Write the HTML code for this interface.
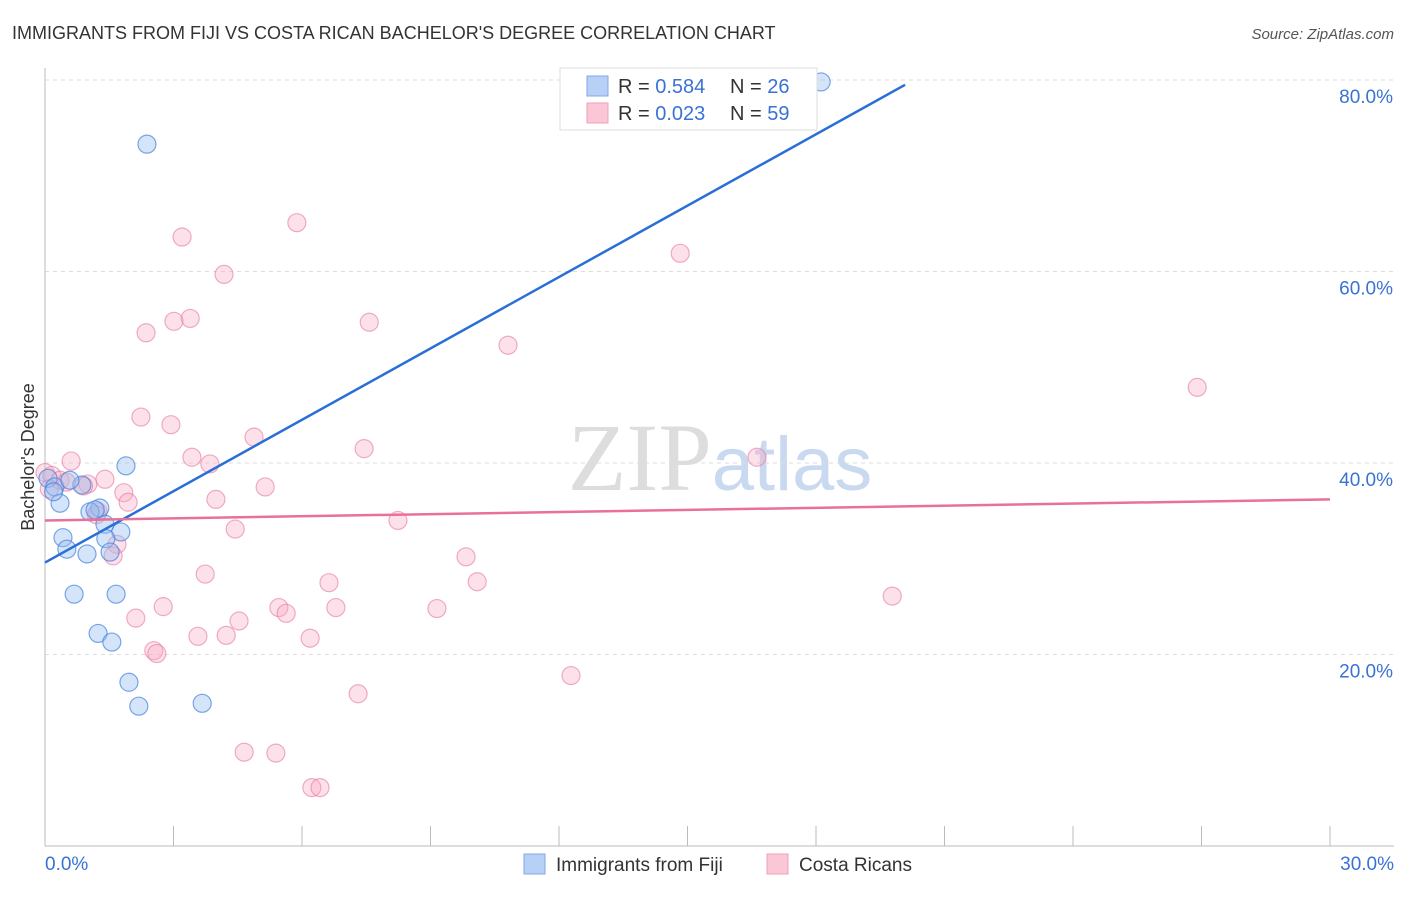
<!DOCTYPE html>
<html><head><meta charset="utf-8"><style>
body{margin:0;background:#fff;font-family:"Liberation Sans",sans-serif;}
svg text{font-family:"Liberation Sans",sans-serif;}
</style></head><body>
<svg id="chart" width="1406" height="892" xmlns="http://www.w3.org/2000/svg">
<text x="12" y="39" font-size="18" fill="#333">IMMIGRANTS FROM FIJI VS COSTA RICAN BACHELOR'S DEGREE CORRELATION CHART</text>
<text x="1394" y="39" font-size="15" fill="#555" font-style="italic" text-anchor="end">Source: ZipAtlas.com</text>
<text x="720" y="490" font-size="96" text-anchor="middle"><tspan fill="#ddd" font-family="Liberation Serif">ZIP</tspan><tspan fill="#c9d9f0" font-size="76">atlas</tspan></text>
<g id="grid"></g>
<g id="axes"></g>
<g id="marks"></g>
<g id="trends"></g>
<text transform="translate(34,457) rotate(-90)" font-size="18" fill="#333" text-anchor="middle">Bachelor's Degree</text>
<g>
<rect x="560" y="68" width="257" height="62" fill="#fff" stroke="#ddd"/>
<rect x="587" y="76" width="21" height="20" fill="#b8d0f5" stroke="#7fa8e8"/>
<rect x="587" y="103" width="21" height="20" fill="#fbc6d6" stroke="#f0a0b8"/>
<text x="618" y="93" font-size="20" fill="#333">R = <tspan fill="#3a72d4">0.584</tspan></text>
<text x="730" y="93" font-size="20" fill="#333">N = <tspan fill="#3a72d4">26</tspan></text>
<text x="618" y="120" font-size="20" fill="#333">R = <tspan fill="#3a72d4">0.023</tspan></text>
<text x="730" y="120" font-size="20" fill="#333">N = <tspan fill="#3a72d4">59</tspan></text>
</g>
<g>
<rect x="524" y="854" width="21" height="20" fill="#b8d0f5" stroke="#7fa8e8"/>
<text x="556" y="871" font-size="19" fill="#333">Immigrants from Fiji</text>
<rect x="767" y="854" width="21" height="20" fill="#fbc6d6" stroke="#f0a0b8"/>
<text x="799" y="871" font-size="19" fill="#333">Costa Ricans</text>
</g>
</svg>
<script>
const yTicks=[20,40,60,80];
const yTickLabels=["20.0%","40.0%","60.0%","80.0%"];
const xTicks=[0,3,6,9,12,15,18,21,24,27,30];
const xEndLabels=["0.0%","30.0%"];
const fijiX=[2.38,18.12,1.89,0.07,0.23,0.86,0.35,1.28,1.05,1.4,1.77,0.42,1.42,0.51,1.52,0.98,0.68,1.66,1.24,1.56,1.96,2.19,3.67,1.17,0.58,0.2];
const fijiY=[73.3,79.8,39.7,38.4,37.5,37.7,35.8,35.3,34.9,33.6,32.8,32.2,32.1,31.0,30.7,30.5,26.3,26.3,22.2,21.3,17.1,14.6,14.9,35.1,38.2,37.0];
const costaX=[5.88,3.2,4.18,3.39,3.01,2.36,7.57,10.81,14.83,26.9,2.24,2.94,4.88,7.45,3.43,3.85,16.62,0.61,0.0,1.4,1.0,5.14,1.84,3.99,1.94,1.24,8.24,4.44,1.68,1.59,9.83,3.74,6.63,10.09,19.78,2.76,5.46,6.79,9.15,5.63,2.12,4.53,3.57,4.23,6.19,2.54,2.61,12.28,7.31,4.65,5.39,6.23,6.42,0.16,0.35,0.9,1.2,0.1,0.5];
const costaY=[65.1,63.6,59.7,55.1,54.8,53.6,54.7,52.3,61.9,47.9,44.8,44.0,42.7,41.5,40.6,39.9,40.6,40.2,39.0,38.3,37.8,37.5,36.9,36.2,35.9,34.9,34.0,33.1,31.5,30.3,30.2,28.4,27.5,27.6,26.1,25.0,24.9,24.9,24.8,24.3,23.8,23.5,21.9,22.0,21.7,20.4,20.1,17.8,15.9,9.8,9.7,6.1,6.1,38.7,38.2,37.6,34.6,37.3,38.0];
const fijiTrend=[[0,29.6],[20.08,79.5]];
const costaTrend=[[0,34.0],[30,36.2]];
const X=v=>45+v*1285/30, Y=v=>846-v*9.575;
const NS="http://www.w3.org/2000/svg";
function mk(parent,tag,attrs){const e=document.createElementNS(NS,tag);for(const k in attrs)e.setAttribute(k,attrs[k]);document.getElementById(parent).appendChild(e);return e;}
yTicks.forEach((t,i)=>{
 const l=mk('grid','line',{x1:45,x2:1394,y1:Y(t),y2:Y(t),stroke:'#ddd','stroke-dasharray':'4,4'});
 
 
 const tx=mk('grid','text',{x:1393,y:Y(t)+23,'font-size':19,fill:'#3a72d4','text-anchor':'end'});
 tx.textContent=yTickLabels[i];
 
 
});
const ax=mk('axes','line',{x1:45,x2:45,y1:68,y2:846,stroke:'#bbb'});


const bx=mk('axes','line',{x1:45,x2:1394,y1:846,y2:846,stroke:'#bbb'});


xTicks.forEach(t=>{
 const l=mk('axes','line',{x1:X(t),x2:X(t),y1:826,y2:846,stroke:'#bbb'});
 
 
});
const xl0=mk('axes','text',{x:45,y:870,'font-size':19,fill:'#3a72d4'});xl0.textContent=xEndLabels[0];


const xl1=mk('axes','text',{x:1394,y:870,'font-size':19,fill:'#3a72d4','text-anchor':'end'});xl1.textContent=xEndLabels[1];


costaX.forEach((v,i)=>{
 const c=mk('marks','circle',{cx:X(v),cy:Y(costaY[i]),r:9,fill:'rgba(248,170,195,0.35)',stroke:'rgba(230,120,160,0.6)','stroke-width':1.2});
 
 
});
fijiX.forEach((v,i)=>{
 const c=mk('marks','circle',{cx:X(v),cy:Y(fijiY[i]),r:9,fill:'rgba(150,190,240,0.4)',stroke:'rgba(70,130,220,0.7)','stroke-width':1.2});
 
 
});
const t1=mk('trends','line',{x1:X(fijiTrend[0][0]),y1:Y(fijiTrend[0][1]),x2:X(fijiTrend[1][0]),y2:Y(fijiTrend[1][1]),stroke:'#2a6fd6','stroke-width':2.5});


const t2=mk('trends','line',{x1:X(costaTrend[0][0]),y1:Y(costaTrend[0][1]),x2:X(costaTrend[1][0]),y2:Y(costaTrend[1][1]),stroke:'#e8709a','stroke-width':2.5});


</script>
</body></html>
